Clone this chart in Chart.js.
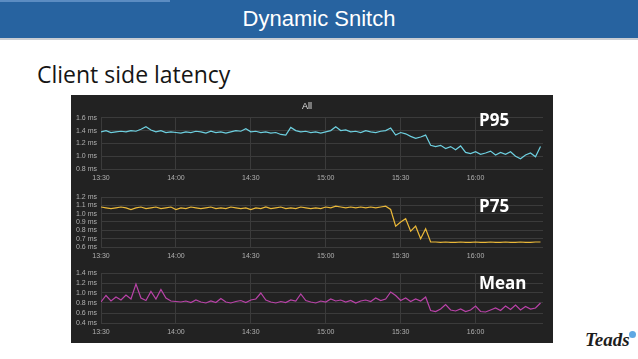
<!DOCTYPE html>
<html>
<head>
<meta charset="utf-8">
<script src="https://cdn.jsdelivr.net/npm/chart.js@4.4.0/dist/chart.umd.min.js"></script>
<style>
  body { margin: 0; width: 638px; height: 359px; background: #fff; position: relative; overflow: hidden; font-family: "Liberation Sans", Arial, sans-serif; }
  #header { position: absolute; left: 0; top: 0; width: 638px; height: 38px; background: #2763a0; border-bottom: 2px solid #c9cdd3; }
  #header .strip { position: absolute; left: 0; top: 0; width: 170px; height: 2px; background: #5b8cc2; }
  #header h1 { margin: 0; position: absolute; left: 0; top: 7px; width: 638px; text-align: center; color: #fff; font-weight: normal; font-size: 22px; line-height: 24px; }
  #subtitle { position: absolute; left: 37px; top: 59px; font-family: "Open Sans", sans-serif; font-size: 23px; line-height: 30px; color: #151515; }
  .panel { position: absolute; left: 71px; width: 482px; background: #222; }
  .panel canvas { display: block; }
  .tag { position: absolute; left: 479px; color: #fff; font-family: "Open Sans", sans-serif; font-weight: bold; font-size: 17px; line-height: 20px; }
  #logo { position: absolute; left: 585px; top: 329px; font-family: "Liberation Serif", serif; font-style: italic; font-weight: bold; font-size: 19px; line-height: 22px; color: #1d1d1d; }
  #logo i { position: absolute; left: 44px; top: 2px; width: 7px; height: 7px; border-radius: 50%; background: #5fa8e3; }
</style>
</head>
<body>
<div id="header"><div class="strip"></div><h1>Dynamic Snitch</h1></div>
<div id="subtitle">Client side latency</div>

<div class="panel" style="top:95px;height:92px"><canvas id="p95" width="482" height="92"></canvas></div>
<div class="panel" style="top:187px;height:75px"><canvas id="p75" width="482" height="75"></canvas></div>
<div class="panel" style="top:262px;height:81px"><canvas id="mean" width="482" height="81"></canvas></div>

<div class="tag" style="top:110px">P95</div>
<div class="tag" style="top:196px">P75</div>
<div class="tag" style="top:273px">Mean</div>
<div id="logo">Teads<i></i></div>

<script>
// minutes after 13:30
const minutes = [0,2,4,6,8,10,12,14,16,18,20,22,24,26,28,30,32,34,36,38,40,42,44,46,48,50,52,54,56,58,
  60,62,64,66,68,70,72,74,76,78,80,82,84,86,88,90,92,94,96,98,100,102,104,106,108,110,112,114,116,118,
  120,122,124,126,128,130,132,134,136,138,140,142,144,146,148,150,152,154,156,158,160,162,164,166,168,170,172,174,176];

const timeTicks = ['13:30', '14:00', '14:30', '15:00', '15:30', '16:00'];
const tickMinutes = [0, 30, 60, 90, 120, 150];

const p95Values = [1.38,1.40,1.37,1.38,1.39,1.38,1.40,1.39,1.42,1.46,1.41,1.38,1.40,1.37,1.38,1.37,1.36,1.38,1.37,1.39,
  1.38,1.36,1.39,1.37,1.38,1.36,1.38,1.40,1.39,1.43,1.38,1.39,1.37,1.38,1.36,1.37,1.34,1.33,1.45,1.40,
  1.38,1.39,1.37,1.38,1.36,1.38,1.40,1.46,1.40,1.41,1.38,1.39,1.37,1.40,1.38,1.37,1.39,1.40,1.44,1.33,
  1.37,1.35,1.31,1.28,1.30,1.33,1.17,1.15,1.17,1.12,1.15,1.10,1.16,1.06,1.04,1.07,1.03,1.05,1.08,1.02,
  1.06,1.03,1.07,1.00,0.96,1.02,1.05,0.99,1.15];

const p75Values = [1.08,1.07,1.06,1.07,1.08,1.07,1.05,1.07,1.08,1.06,1.07,1.08,1.06,1.07,1.08,1.05,1.07,1.06,1.08,1.07,
  1.06,1.07,1.08,1.06,1.07,1.06,1.08,1.07,1.06,1.07,1.05,1.07,1.06,1.08,1.06,1.07,1.08,1.06,1.07,1.06,
  1.08,1.07,1.06,1.07,1.06,1.08,1.07,1.09,1.08,1.07,1.08,1.07,1.08,1.07,1.08,1.07,1.08,1.09,1.05,0.85,
  0.90,0.94,0.79,0.85,0.70,0.82,0.66,0.66,0.655,0.66,0.655,0.655,0.66,0.655,0.655,0.66,0.655,0.655,0.66,0.655,
  0.655,0.66,0.655,0.655,0.66,0.655,0.655,0.66,0.66];

const meanValues = [0.82,0.95,0.84,0.92,0.86,0.96,0.88,1.18,0.90,0.85,1.03,0.88,1.07,0.90,0.84,0.83,0.82,0.84,0.81,0.86,
  0.82,0.80,0.84,0.81,0.89,0.82,0.80,0.83,0.85,0.81,0.86,0.88,1.00,0.86,0.82,0.80,0.83,0.81,0.86,0.84,
  0.98,0.85,0.82,0.80,0.84,0.82,0.88,0.84,0.86,0.82,0.85,0.80,0.84,0.86,0.83,0.90,0.85,0.88,1.02,0.95,
  0.85,0.90,0.83,0.88,0.84,0.92,0.65,0.63,0.68,0.77,0.66,0.64,0.68,0.63,0.66,0.74,0.63,0.62,0.66,0.70,
  0.65,0.74,0.67,0.76,0.66,0.73,0.68,0.70,0.80];

const p95Ticks = [0.8, 1.0, 1.2, 1.4, 1.6];
const p75Ticks = [0.6, 0.7, 0.8, 0.9, 1.0, 1.1, 1.2];
const meanTicks = [0.4, 0.6, 0.8, 1.0, 1.2, 1.4];

const gridColor = '#3b3b3b';
const tickColor = '#b0b0b0';
const tickFont = { family: '"Liberation Sans", Arial, sans-serif', size: 7 };

function buildChart(id, values, color, yTicks, padTop, xHeight, title) {
  return new Chart(document.getElementById(id), {
    type: 'line',
    data: {
      datasets: [{
        data: minutes.map((m, i) => ({ x: m, y: values[i] })),
        borderColor: color,
        borderWidth: 1.2,
        pointRadius: 0,
        tension: 0
      }]
    },
    options: {
      responsive: false,
      animation: false,
      layout: { padding: { top: padTop, right: 10, left: 0, bottom: 0 } },
      plugins: {
        legend: { display: false },
        tooltip: { enabled: false },
        title: {
          display: !!title,
          text: title,
          color: '#e0e0e0',
          font: { family: '"Liberation Sans", Arial, sans-serif', size: 9, weight: 'normal' },
          padding: { top: 6, bottom: 6 }
        }
      },
      scales: {
        x: {
          type: 'linear',
          min: 0,
          max: 177,
          afterBuildTicks: s => { s.ticks = tickMinutes.map(v => ({ value: v })); },
          afterFit: s => { s.height = xHeight; },
          grid: { color: gridColor, drawTicks: false },
          border: { display: false },
          ticks: {
            color: tickColor, font: tickFont, padding: 5, maxRotation: 0, autoSkip: false,
            callback: v => timeTicks[tickMinutes.indexOf(v)]
          }
        },
        y: {
          min: yTicks[0],
          max: yTicks[yTicks.length - 1],
          afterBuildTicks: s => { s.ticks = yTicks.map(v => ({ value: v })); },
          afterFit: s => { s.width = 30; },
          grid: { color: gridColor, drawTicks: false },
          border: { display: false },
          ticks: {
            color: tickColor, font: tickFont, padding: 4, autoSkip: false,
            callback: v => v.toFixed(1) + ' ms'
          }
        }
      }
    }
  });
}

buildChart('p95', p95Values, '#6ed0e0', p95Ticks, 0, 18, 'All');
buildChart('p75', p75Values, '#eab839', p75Ticks, 10, 15, '');
buildChart('mean', meanValues, '#ba43a9', meanTicks, 11, 20, '');
</script>
</body>
</html>
